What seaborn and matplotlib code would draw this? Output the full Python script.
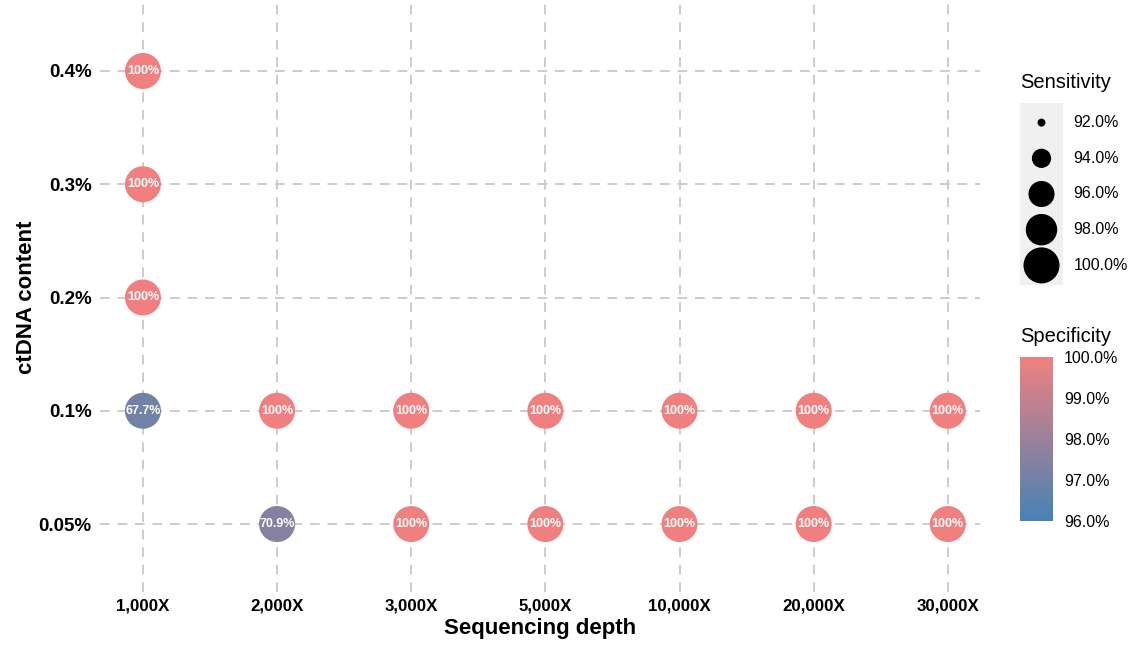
import numpy as np
import pandas as pd
import matplotlib
matplotlib.use("Agg")
import matplotlib.pyplot as plt
import matplotlib.transforms as mtransforms
from matplotlib import font_manager
from matplotlib.colors import LinearSegmentedColormap, Normalize
from matplotlib.cm import ScalarMappable
import seaborn as sns

# ---- data -------------------------------------------------------------
depths = ["1,000X", "2,000X", "3,000X", "5,000X", "10,000X", "20,000X", "30,000X"]
contents = ["0.05%", "0.1%", "0.2%", "0.3%", "0.4%"]

point_depth = ["1,000X", "1,000X", "1,000X", "1,000X", "2,000X", "3,000X", "5,000X",
               "10,000X", "20,000X", "30,000X", "2,000X", "3,000X", "5,000X",
               "10,000X", "20,000X", "30,000X"]
point_content = ["0.4%", "0.3%", "0.2%", "0.1%", "0.1%", "0.1%", "0.1%",
                 "0.1%", "0.1%", "0.1%", "0.05%", "0.05%", "0.05%",
                 "0.05%", "0.05%", "0.05%"]
sensitivity = [100.0] * 16
specificity = [100.0, 100.0, 100.0, 97.0, 100.0, 100.0, 100.0,
               100.0, 100.0, 100.0, 97.5, 100.0, 100.0,
               100.0, 100.0, 100.0]
detection = [100.0, 100.0, 100.0, 67.7, 100.0, 100.0, 100.0,
             100.0, 100.0, 100.0, 70.9, 100.0, 100.0,
             100.0, 100.0, 100.0]

size_breaks = [92.0, 94.0, 96.0, 98.0, 100.0]
spec_breaks = [96.0, 97.0, 98.0, 99.0, 100.0]

# ---- styling ----------------------------------------------------------
sns.set_theme(style="white")
plt.rcParams["font.family"] = ["Liberation Sans", "DejaVu Sans"]
for key in ["text.color", "axes.labelcolor", "xtick.color", "ytick.color"]:
    plt.rcParams[key] = "black"


def narrow_family():
    for fam in ["Liberation Sans Narrow", "DejaVu Sans Condensed"]:
        try:
            font_manager.findfont(font_manager.FontProperties(family=fam, weight="bold"),
                                  fallback_to_default=False)
            return fam, 1.0
        except Exception:
            pass
    return "Liberation Sans", 0.9


narrow, narrow_scale = narrow_family()

cmap = LinearSegmentedColormap.from_list("spec", ["#4682B4", "#F08080"])
spec_norm = (96.0, 100.0)
size_norm = (92.0, 100.0)
marker_sizes = (33, 672)

df = pd.DataFrame({
    "depth": point_depth,
    "content": point_content,
    "sensitivity": sensitivity,
    "specificity": specificity,
    "detection": detection,
})
df["xi"] = df["depth"].map({d: i for i, d in enumerate(depths)})
df["yi"] = df["content"].map({c: i for i, c in enumerate(contents)})

W, H = 1135, 650
fig = plt.figure(figsize=(W / 100, H / 100), dpi=100)
ax = fig.add_axes([100 / W, 1 - 592 / H, 880 / W, 589 / H])

grid_kw = dict(color="#CCCCCC", lw=1.4, ls=(0, (5, 4)), zorder=0)
for i in range(len(depths)):
    ax.axvline(i, **grid_kw)
for j in range(len(contents)):
    ax.axhline(j, **grid_kw)

sns.scatterplot(data=df, x="xi", y="yi", hue="specificity", palette=cmap,
                hue_norm=spec_norm, size="sensitivity", sizes=marker_sizes,
                size_norm=size_norm, linewidth=0, legend=False, ax=ax, zorder=3)

for _, r in df.iterrows():
    txt = "100%" if r["detection"] == 100 else f"{r['detection']:.1f}%"
    ax.text(r["xi"], r["yi"], txt, color="white", fontsize=9,
            fontweight="bold", family=narrow, ha="center", va="center", zorder=4)

ax.set_xlim(-0.32, 6.24)
ax.set_ylim(-0.6, 4.6)
ax.set_xticks(range(len(depths)))
ax.set_xticklabels(depths, fontsize=13.5 * narrow_scale, fontweight="bold", family=narrow)
ax.set_yticks(range(len(contents)))
ax.set_yticklabels(contents, fontsize=13.5, fontweight="bold")
ax.tick_params(length=0, pad=6)
ax.tick_params(axis="x", pad=5)
for s in ax.spines.values():
    s.set_visible(False)
ax.set_xlabel("Sequencing depth", fontsize=16, fontweight="bold",
              family=narrow, labelpad=3)
ax.set_ylabel("ctDNA content", fontsize=16, fontweight="bold", labelpad=1)

# ---- size legend ------------------------------------------------------
fig.text(1020 / W, 1 - 82 / H, "Sensitivity", fontsize=14.5, va="center", ha="left")
lax = fig.add_axes([1020 / W, 1 - 285 / H, 43 / W, 182 / H])
lax.set_facecolor("#F0F0F0")
leg = pd.DataFrame({"sensitivity": size_breaks,
                    "key": np.arange(len(size_breaks))[::-1]})
sns.scatterplot(data=leg, x=np.zeros(len(leg)), y="key", size="sensitivity",
                sizes=marker_sizes, size_norm=size_norm, color="black",
                linewidth=0, legend=False, ax=lax)
lax.set_xlim(-1, 1)
lax.set_ylim(-0.55, len(size_breaks) - 0.45)
lax.set_xticks([])
lax.set_yticks([])
lax.set_xlabel("")
lax.set_ylabel("")
for s in lax.spines.values():
    s.set_visible(False)
tr = mtransforms.blended_transform_factory(lax.transAxes, lax.transData)
for v, k in zip(leg["sensitivity"], leg["key"]):
    lax.text(1.24, k, f"{v:.1f}%", transform=tr, fontsize=11.5, va="center", ha="left")

# ---- colour bar -------------------------------------------------------
fig.text(1020 / W, 1 - 337 / H, "Specificity", fontsize=14.5, va="center", ha="left")
cax = fig.add_axes([1020 / W, 1 - 521 / H, 33 / W, 164 / H])
sm = ScalarMappable(norm=Normalize(*spec_norm), cmap=cmap)
cb = fig.colorbar(sm, cax=cax)
cb.outline.set_visible(False)
cb.set_ticks(spec_breaks)
cb.set_ticklabels([f"{v:.1f}%" for v in spec_breaks])
cax.tick_params(axis="y", which="both", left=True, right=True, labelleft=False,
                labelright=True, direction="in", length=6, width=1,
                colors="white", labelcolor="black", labelsize=11.5, pad=8)

fig.savefig("out.png", dpi=100)
